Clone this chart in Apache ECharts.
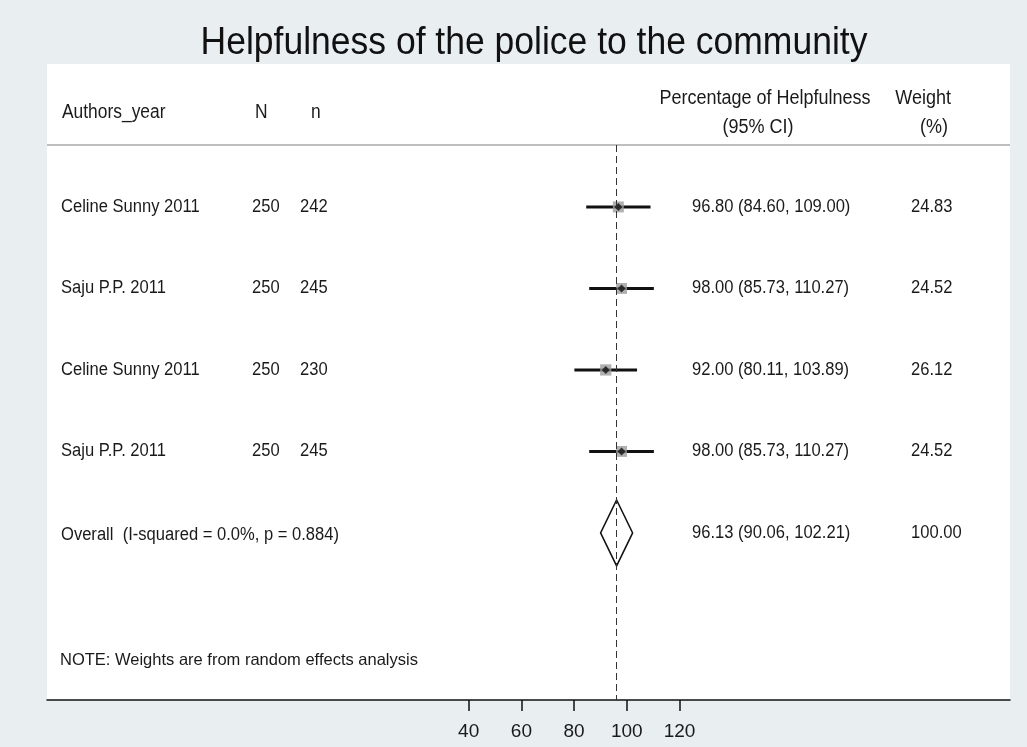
<!DOCTYPE html>
<html>
<head>
<meta charset="utf-8">
<title>Helpfulness of the police to the community</title>
<script src="https://cdn.jsdelivr.net/npm/echarts@6/dist/echarts.min.js"></script>
<style>
  html, body { margin: 0; padding: 0; background: #e9eef1; }
  #chart { width: 1027px; height: 747px; }
</style>
</head>
<body>
<div id="chart"></div>
<script>
// ---- study data ----
const studies   = ['Celine Sunny 2011', 'Saju P.P. 2011', 'Celine Sunny 2011', 'Saju P.P. 2011'];
const totalN    = [250, 250, 250, 250];
const helpfulN  = [242, 245, 230, 245];
const estimates = [96.80, 98.00, 92.00, 98.00];
const ciLower   = [84.60, 85.73, 80.11, 85.73];
const ciUpper   = [109.00, 110.27, 103.89, 110.27];
const weights   = [24.83, 24.52, 26.12, 24.52];

// ---- pooled (random effects) estimate ----
const overallLabel  = 'Overall  (I-squared = 0.0%, p = 0.884)';
const overallEst    = 96.13;
const overallLower  = 90.06;
const overallUpper  = 102.21;
const overallWeight = 100.00;

const xTicks = [40, 60, 80, 100, 120];
const noteText = 'NOTE: Weights are from random effects analysis';

// row positions on the (hidden) vertical axis
const studyRows = studies.map((_, i) => i + 1);
const overallRow = studies.length + 1;

const FONT = "'Liberation Sans', Arial, sans-serif";
const fmt = v => v.toFixed(2);

function txt(x, y, text, size, align, scaleX, color) {
  return {
    type: 'text', x: x, y: y, scaleX: scaleX || 1,
    style: {
      text: text, x: 0, y: 0,
      font: size + 'px ' + FONT,
      fill: color || '#1a1a1a',
      align: align || 'left', verticalAlign: 'middle'
    }
  };
}

// table column positions (pixels)
const COL = { name: 61, N: 252, n: 300, est: 692, wt: 911 };
const ROW_FONT = 18, ROW_SCALE = 0.92;

const chart = echarts.init(document.getElementById('chart'), null, { renderer: 'canvas' });

const option = {
  animation: false,
  backgroundColor: '#e9eef1',
  grid: {
    left: 47, right: 17, top: 145, bottom: 47,
    show: true, backgroundColor: '#ffffff', borderWidth: 0
  },
  xAxis: {
    type: 'value', min: -120, max: 245.4,
    axisLine: { show: true, lineStyle: { color: '#111', width: 1.5 } },
    axisTick: { show: true, customValues: xTicks, length: 11, lineStyle: { color: '#111', width: 1.5 } },
    axisLabel: {
      show: true, customValues: xTicks, margin: 22,
      fontSize: 19, fontFamily: FONT,
      color: '#1a1a1a'
    },
    splitLine: { show: false }
  },
  yAxis: { type: 'value', inverse: true, min: 0.24, max: 7.05, show: false },
  graphic: [
    { type: 'rect', shape: { x: 47, y: 64, width: 963, height: 81 }, style: { fill: '#ffffff' }, z: -1, silent: true },
    { type: 'line', shape: { x1: 47, y1: 145, x2: 1010, y2: 145 }, style: { stroke: '#a9a9a9', lineWidth: 1.5 }, silent: true },
    Object.assign(txt(534, 43, 'Helpfulness of the police to the community', 39, 'center', 0.91, '#111'), { silent: true }),
    txt(62, 112, 'Authors_year', 20, 'left', 0.87),
    txt(255, 112, 'N', 20, 'left', 0.87),
    txt(311, 112, 'n', 20, 'left', 0.87),
    txt(765, 98, 'Percentage of Helpfulness', 20, 'center', 0.9),
    txt(758, 127, '(95% CI)', 20, 'center', 0.9),
    txt(951, 98, 'Weight', 20, 'right', 0.9),
    txt(948, 127, '(%)', 20, 'right', 0.9),
    txt(60, 660, noteText, 16.5, 'left', 1)
  ],
  series: [
    {
      // confidence interval whiskers
      type: 'custom',
      data: studies.map((_, i) => [estimates[i], studyRows[i], ciLower[i], ciUpper[i]]),
      encode: { x: [0, 2, 3], y: 1 },
      renderItem: function (params, api) {
        const a = api.coord([api.value(2), api.value(1)]);
        const b = api.coord([api.value(3), api.value(1)]);
        return { type: 'line', shape: { x1: a[0], y1: a[1], x2: b[0], y2: b[1] },
                 style: { stroke: '#111', lineWidth: 3 } };
      },
      z: 2
    },
    {
      // weight boxes
      type: 'scatter',
      data: studies.map((_, i) => [estimates[i], studyRows[i], weights[i]]),
      symbol: 'rect',
      symbolSize: d => 2.2 * Math.sqrt(d[2]),
      itemStyle: { color: '#9c9c9c', opacity: 0.8 },
      z: 3
    },
    {
      // point estimates
      type: 'scatter',
      data: studies.map((_, i) => [estimates[i], studyRows[i]]),
      symbol: 'diamond', symbolSize: 8,
      itemStyle: { color: '#111' },
      z: 4
    },
    {
      // pooled estimate diamond + reference line
      type: 'custom',
      data: [[overallEst, overallRow, overallLower, overallUpper]],
      encode: { x: [0, 2, 3], y: 1 },
      renderItem: function (params, api) {
        const c = api.coord([api.value(0), api.value(1)]);
        const l = api.coord([api.value(2), api.value(1)]);
        const r = api.coord([api.value(3), api.value(1)]);
        const h = 33;
        return {
          type: 'polygon',
          shape: { points: [[l[0], c[1]], [c[0], c[1] - h], [r[0], c[1]], [c[0], c[1] + h]] },
          style: { fill: 'rgba(255,255,255,0)', stroke: '#111', lineWidth: 1.5 }
        };
      },
      markLine: {
        silent: true, symbol: 'none',
        label: { show: false },
        lineStyle: { color: '#333', type: [7, 4], width: 1 },
        data: [{ xAxis: overallEst }]
      },
      z: 3
    },
    {
      // table text for every row
      type: 'custom',
      clip: false,
      data: studies.map((_, i) => [estimates[i], studyRows[i], i]).concat([[overallEst, overallRow, -1]]),
      encode: { x: 0, y: 1 },
      renderItem: function (params, api) {
        const y = api.coord([api.value(0), api.value(1)])[1];
        const i = api.value(2);
        const children = [];
        if (i >= 0) {
          children.push(txt(COL.name, y, studies[i], ROW_FONT, 'left', ROW_SCALE));
          children.push(txt(COL.N, y, String(totalN[i]), ROW_FONT, 'left', ROW_SCALE));
          children.push(txt(COL.n, y, String(helpfulN[i]), ROW_FONT, 'left', ROW_SCALE));
          children.push(txt(COL.est, y, fmt(estimates[i]) + ' (' + fmt(ciLower[i]) + ', ' + fmt(ciUpper[i]) + ')', ROW_FONT, 'left', ROW_SCALE));
          children.push(txt(COL.wt, y, fmt(weights[i]), ROW_FONT, 'left', ROW_SCALE));
        } else {
          children.push(txt(COL.name, y + 2, overallLabel, ROW_FONT, 'left', ROW_SCALE));
          children.push(txt(COL.est, y, fmt(overallEst) + ' (' + fmt(overallLower) + ', ' + fmt(overallUpper) + ')', ROW_FONT, 'left', ROW_SCALE));
          children.push(txt(COL.wt, y, fmt(overallWeight), ROW_FONT, 'left', ROW_SCALE));
        }
        return { type: 'group', children: children };
      },
      z: 5
    }
  ]
};

chart.setOption(option);
</script>
</body>
</html>
